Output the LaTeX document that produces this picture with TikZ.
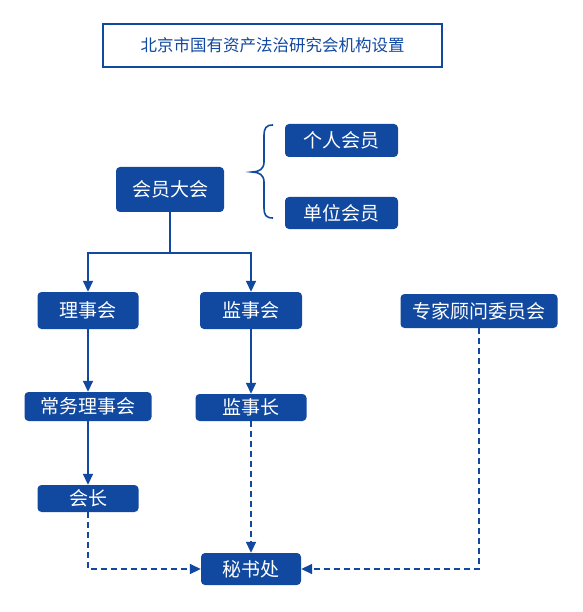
\documentclass[tikz,border=0pt]{standalone}
\usepackage{fontspec}
\setmainfont{Noto Sans CJK SC}
\usetikzlibrary{arrows.meta, positioning}
\definecolor{orgblue}{HTML}{1148A0}

\begin{document}
\begin{tikzpicture}[x=1pt, y=-1pt, >={Triangle[length=11pt, width=10pt]},
    box/.style={fill=orgblue, text=white, rounded corners=4pt, inner sep=0pt,
        font=\fontsize{19}{21}\selectfont},
    conn/.style={->, draw=orgblue, line width=1.7pt},
    dconn/.style={conn, dash pattern=on 6pt off 4pt}]
    \useasboundingbox (0,0) rectangle (582,612);

    % title
    \node[draw=orgblue, line width=1.6pt, fill=white, text=orgblue, minimum width=339pt,
        minimum height=43pt, font=\fontsize{16.5}{18}\selectfont] (title) at (272.5,45.5) {北京市国有资产法治研究会机构设置};

    % members
    \node[box, minimum width=108pt, minimum height=45pt] (hy) at (170,189.5) {会员大会};
    \node[box, minimum width=113pt, minimum height=33pt] (gr) at (341.5,140.5) {个人会员};
    \node[box, minimum width=113pt, minimum height=32pt] (dw) at (341.5,213) {单位会员};
    \draw[orgblue, line width=1.6pt] (273,125) .. controls (266,125) and (264,128) .. (264,136)
        -- (264,162) .. controls (264,169) and (259,172) .. (252,172)
        .. controls (259,172) and (264,175) .. (264,182)
        -- (264,208) .. controls (264,215) and (266,218) .. (273,218);

    % councils
    \node[box, minimum width=101pt, minimum height=37pt] (lsh) at (88,310.5) {理事会};
    \node[box, minimum width=102pt, minimum height=37pt] (jsh) at (251,310.5) {监事会};
    \node[box, minimum width=157pt, minimum height=34pt] (zj) at (479,311) {专家顾问委员会};
    \node[box, minimum width=127pt, minimum height=29pt] (cw) at (88,406.5) {常务理事会};
    \node[box, minimum width=111pt, minimum height=27pt] (jsz) at (251,407.5) {监事长};
    \node[box, minimum width=101pt, minimum height=27pt] (hz) at (88,498.5) {会长};
    \node[box, minimum width=100pt, minimum height=32pt] (msc) at (251,569) {秘书处};

    % solid links
    \draw[conn] (hy.south) -- ++(0,41) -| (lsh.north);
    \draw[conn] (hy.south) -- ++(0,41) -| (jsh.north);
    \draw[conn] (lsh) -- (cw);
    \draw[conn] (jsh) -- (jsz);
    \draw[conn] (cw) -- (hz);

    % dashed links
    \draw[dconn] (hz.south) |- (msc.west);
    \draw[dconn] (jsz.south) -- (msc.north);
    \draw[dconn] (zj.south) |- (msc.east);
\end{tikzpicture}
\end{document}
